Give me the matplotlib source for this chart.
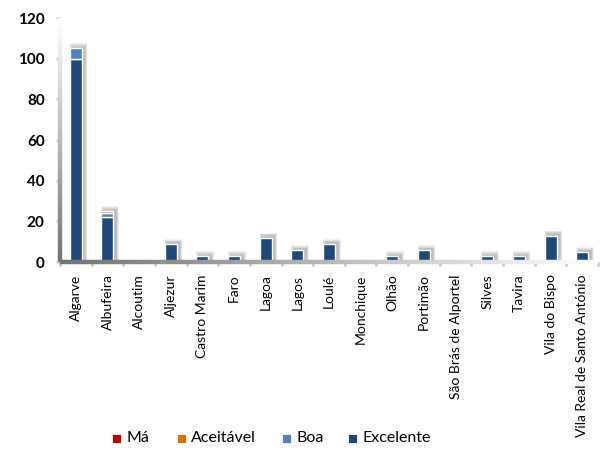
import matplotlib
matplotlib.use("Agg")
import matplotlib.pyplot as plt
import numpy as np
from matplotlib.collections import LineCollection
from matplotlib.patches import Rectangle

categories = ["Algarve", "Albufeira", "Alcoutim", "Aljezur", "Castro Marim", "Faro",
              "Lagoa", "Lagos", "Loulé", "Monchique", "Olhão", "Portimão",
              "São Brás de Alportel", "Silves", "Tavira", "Vila do Bispo",
              "Vila Real de Santo António"]
ma = [0, 0, 0, 0, 0, 0, 0, 0, 0, 0, 0, 0, 0, 0, 0, 0, 0]
aceitavel = [0, 1, 0, 0, 0, 0, 0, 0, 0, 0, 0, 0, 0, 0, 0, 0, 0]
boa = [5, 2, 0, 0, 0, 0, 0, 0, 0, 0, 0, 0, 0, 0, 0, 0, 0]
excelente = [100, 22, 0, 9, 3, 3, 12, 6, 9, 0, 3, 6, 0, 3, 3, 13, 5]
yticks = [0, 20, 40, 60, 80, 100, 120]
series_names = ["Má", "Aceitável", "Boa", "Excelente"]

colors = {"Má": "#C00000", "Aceitável": "#E46C0A", "Boa": "#4F81BD", "Excelente": "#1F497D"}

fig = plt.figure(figsize=(6.03, 4.5), dpi=100)
ax = fig.add_axes([60/603, 1-262/450, (598-60)/603, (262-18)/450])

ncat = len(categories)
x = np.arange(ncat)
w = 0.38
ax.set_xlim(-0.5, ncat - 0.5)
ax.set_ylim(0, 120)

# pixel -> data conversions
pxx = ncat / 538.0
pxy = 120 / 244.0

totals = np.array(ma) + np.array(aceitavel) + np.array(boa) + np.array(excelente)
# soft drop shadows (offset up/right)
for xi, tot in zip(x, totals):
    if tot <= 0:
        continue
    for k in range(1, 6):
        ax.add_patch(Rectangle((xi - w/2 + (2.5 - 0.5*k) * pxx, 0),
                               w + (0.5 + 1.0*k) * pxx, tot + (0.5 + 0.9*k) * pxy,
                               facecolor="black", edgecolor="none", alpha=0.055, zorder=2.5))

bottom = np.zeros(ncat)
for name, vals in [("Excelente", excelente), ("Boa", boa), ("Aceitável", aceitavel), ("Má", ma)]:
    vals = np.array(vals, dtype=float)
    mask = vals > 0
    ax.bar(x[mask], vals[mask], w, bottom=bottom[mask], color=colors[name],
           edgecolor="white", linewidth=1.0, zorder=3)
    bottom += vals

for s in ax.spines.values():
    s.set_visible(False)

# gradient axes lines
n = 200
xs = np.linspace(-0.5, ncat - 0.5, n + 1)
segs = [[(xs[i], 0), (xs[i+1], 0)] for i in range(n)]
cols = [(0.45 + 0.55*t,)*3 for t in np.linspace(0, 1, n)]
ax.add_collection(LineCollection(segs, colors=cols, linewidths=3.2, zorder=4,
                                 clip_on=False, capstyle='butt'))
ys = np.linspace(0, 120, n + 1)
segs = [[(-0.5, ys[i]), (-0.5, ys[i+1])] for i in range(n)]
ax.add_collection(LineCollection(segs, colors=cols, linewidths=3.2, zorder=4,
                                 clip_on=False, capstyle='butt'))

ax.set_yticks(yticks)
ax.set_yticklabels([str(v) for v in yticks], fontfamily="Lato", fontweight="bold", fontsize=11)
ax.tick_params(axis="y", length=3, width=2, color="#d0d0d0", pad=8)
ax.set_xticks(x)
ax.set_xticklabels(categories, rotation=90, fontfamily="Lato", fontsize=10)
ax.tick_params(axis="x", length=0, pad=9)
ax.set_xticks(np.arange(-0.5, ncat), minor=True)
ax.tick_params(axis="x", which="minor", length=3, width=2, color="#c8c8c8")

# legend placed manually
leg_sq_x = [112, 177, 282, 348]
leg_y = 438
sq = 9
for name, px in zip(series_names, leg_sq_x):
    fig.patches.append(Rectangle((px/603, 1 - (leg_y + sq/2)/450), sq/603, sq/450,
                                 transform=fig.transFigure, facecolor=colors[name],
                                 edgecolor="white", linewidth=0.6, figure=fig))
    fig.text((px + sq + 5)/603, 1 - leg_y/450, name, fontfamily="Lato", fontsize=11.5,
             va="center", ha="left")

fig.savefig("out.png", dpi=100)
